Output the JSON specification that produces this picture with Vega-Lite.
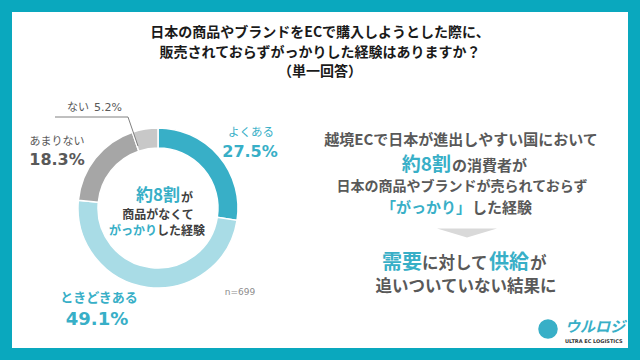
{
  "$schema": "https://vega.github.io/schema/vega-lite/v6.json",
  "width": 640,
  "height": 360,
  "autosize": {"type": "fit", "contains": "padding"},
  "padding": 12,
  "background": "#0AA8BE",
  "config": {
    "view": {"fill": "white", "stroke": null},
    "text": {"font": "Noto Sans CJK JP", "baseline": "middle"}
  },
  "data": {
    "values": [
      {"answer": "よくある", "share": 0.275, "rank": 1},
      {"answer": "ときどきある", "share": 0.491, "rank": 2},
      {"answer": "あまりない", "share": 0.183, "rank": 3},
      {"answer": "ない", "share": 0.052, "rank": 4}
    ]
  },
  "layer": [
    {
      "mark": {"type": "arc", "innerRadius": 60, "outerRadius": 80, "stroke": "white", "strokeWidth": 1.5},
      "encoding": {
        "x": {"datum": 158, "type": "quantitative", "scale": {"domain": [12, 628], "nice": false, "zero": false}, "axis": null},
        "y": {"datum": 208, "type": "quantitative", "scale": {"domain": [12, 348], "nice": false, "zero": false, "reverse": true}, "axis": null},
        "theta": {"field": "share", "type": "quantitative", "stack": true},
        "order": {"field": "rank", "type": "quantitative"},
        "color": {"field": "answer", "type": "nominal", "legend": null,
          "scale": {"domain": ["よくある", "ときどきある", "あまりない", "ない"], "range": ["#38AFC7", "#A9DCE6", "#A6A6A6", "#C8C8C8"]}}
      }
    },
    {
      "transform": [{"filter": "datum.answer == 'ない'"}],
      "mark": {"type": "rule", "color": "#808080", "strokeWidth": 1},
      "encoding": {"x": {"datum": 55}, "x2": {"datum": 128}, "y": {"datum": 117}, "y2": {"datum": 117}}
    },
    {
      "transform": [{"filter": "datum.answer == 'ない'"}],
      "mark": {"type": "rule", "color": "#808080", "strokeWidth": 1},
      "encoding": {"x": {"datum": 128}, "x2": {"datum": 138}, "y": {"datum": 117}, "y2": {"datum": 146}}
    },
    {
      "transform": [{"filter": "datum.answer == 'ない'"}],
      "mark": {"type": "text", "align": "right", "fontSize": 11, "color": "#595959"},
      "encoding": {"x": {"datum": 89}, "y": {"datum": 108}, "text": {"field": "answer"}}
    },
    {
      "transform": [{"filter": "datum.answer == 'ない'"}],
      "mark": {"type": "text", "align": "left", "fontSize": 11, "font": "DejaVu Sans", "color": "#595959"},
      "encoding": {"x": {"datum": 94}, "y": {"datum": 108}, "text": {"field": "share", "type": "quantitative", "format": ".1%"}}
    },
    {
      "transform": [{"filter": "datum.answer == 'よくある'"}],
      "mark": {"type": "text", "align": "center", "fontSize": 11.5, "color": "#38AFC7"},
      "encoding": {"x": {"datum": 251}, "y": {"datum": 133}, "text": {"field": "answer"}}
    },
    {
      "transform": [{"filter": "datum.answer == 'よくある'"}],
      "mark": {"type": "text", "align": "center", "fontSize": 16, "font": "DejaVu Sans", "fontWeight": "bold", "color": "#38AFC7"},
      "encoding": {"x": {"datum": 250}, "y": {"datum": 152}, "text": {"field": "share", "type": "quantitative", "format": ".1%"}}
    },
    {
      "transform": [{"filter": "datum.answer == 'ときどきある'"}],
      "mark": {"type": "text", "align": "center", "fontSize": 13, "fontWeight": "bold", "color": "#38AFC7"},
      "encoding": {"x": {"datum": 99}, "y": {"datum": 298}, "text": {"field": "answer"}}
    },
    {
      "transform": [{"filter": "datum.answer == 'ときどきある'"}],
      "mark": {"type": "text", "align": "center", "fontSize": 18, "font": "DejaVu Sans", "fontWeight": "bold", "color": "#38AFC7"},
      "encoding": {"x": {"datum": 97}, "y": {"datum": 320}, "text": {"field": "share", "type": "quantitative", "format": ".1%"}}
    },
    {
      "transform": [{"filter": "datum.answer == 'あまりない'"}],
      "mark": {"type": "text", "align": "center", "fontSize": 11, "color": "#595959"},
      "encoding": {"x": {"datum": 57}, "y": {"datum": 142}, "text": {"field": "answer"}}
    },
    {
      "transform": [{"filter": "datum.answer == 'あまりない'"}],
      "mark": {"type": "text", "align": "center", "fontSize": 16, "font": "DejaVu Sans", "fontWeight": "bold", "color": "#595959"},
      "encoding": {"x": {"datum": 57}, "y": {"datum": 160}, "text": {"field": "share", "type": "quantitative", "format": ".1%"}}
    },
    {
      "data": {"values": [{"t": "n=699"}]},
      "mark": {"type": "text", "align": "center", "fontSize": 9, "font": "DejaVu Sans", "color": "#8C8C8C"},
      "encoding": {"x": {"datum": 240}, "y": {"datum": 292}, "text": {"field": "t"}}
    },
    {
      "data": {"values": [{"t": "約8割"}]},
      "mark": {"type": "text", "align": "right", "fontSize": 17, "fontWeight": "bold", "color": "#38AFC7"},
      "encoding": {"x": {"datum": 180}, "y": {"datum": 196}, "text": {"field": "t"}}
    },
    {
      "data": {"values": [{"t": "が"}]},
      "mark": {"type": "text", "align": "left", "fontSize": 12, "fontWeight": "bold", "color": "#404040"},
      "encoding": {"x": {"datum": 181}, "y": {"datum": 198}, "text": {"field": "t"}}
    },
    {
      "data": {"values": [{"t": "商品がなくて"}]},
      "mark": {"type": "text", "align": "center", "fontSize": 12, "fontWeight": "bold", "color": "#404040"},
      "encoding": {"x": {"datum": 158}, "y": {"datum": 215}, "text": {"field": "t"}}
    },
    {
      "data": {"values": [{"t": "がっかり"}]},
      "mark": {"type": "text", "align": "right", "fontSize": 12, "fontWeight": "bold", "color": "#38AFC7"},
      "encoding": {"x": {"datum": 157}, "y": {"datum": 231}, "text": {"field": "t"}}
    },
    {
      "data": {"values": [{"t": "した経験"}]},
      "mark": {"type": "text", "align": "left", "fontSize": 12, "fontWeight": "bold", "color": "#404040"},
      "encoding": {"x": {"datum": 157}, "y": {"datum": 231}, "text": {"field": "t"}}
    },
    {
      "data": {"values": [{"t": "日本の商品やブランドをECで購入しようとした際に、"}]},
      "mark": {"type": "text", "align": "center", "fontSize": 14, "fontWeight": "bold", "color": "#1A1A1A"},
      "encoding": {"x": {"datum": 320}, "y": {"datum": 33}, "text": {"field": "t"}}
    },
    {
      "data": {"values": [{"t": "販売されておらずがっかりした経験はありますか？"}]},
      "mark": {"type": "text", "align": "center", "fontSize": 14, "fontWeight": "bold", "color": "#1A1A1A"},
      "encoding": {"x": {"datum": 320}, "y": {"datum": 53}, "text": {"field": "t"}}
    },
    {
      "data": {"values": [{"t": "（単一回答）"}]},
      "mark": {"type": "text", "align": "center", "fontSize": 14, "fontWeight": "bold", "color": "#1A1A1A"},
      "encoding": {"x": {"datum": 320}, "y": {"datum": 72}, "text": {"field": "t"}}
    },
    {
      "data": {"values": [{"t": "越境ECで日本が進出しやすい国において"}]},
      "mark": {"type": "text", "align": "center", "fontSize": 15, "fontWeight": "bold", "color": "#595959"},
      "encoding": {"x": {"datum": 461}, "y": {"datum": 140}, "text": {"field": "t"}}
    },
    {
      "data": {"values": [{"t": "約8割"}]},
      "mark": {"type": "text", "align": "right", "fontSize": 19, "fontWeight": "bold", "color": "#38AFC7"},
      "encoding": {"x": {"datum": 451}, "y": {"datum": 165}, "text": {"field": "t"}}
    },
    {
      "data": {"values": [{"t": "の消費者が"}]},
      "mark": {"type": "text", "align": "left", "fontSize": 15, "fontWeight": "bold", "color": "#595959"},
      "encoding": {"x": {"datum": 452}, "y": {"datum": 166}, "text": {"field": "t"}}
    },
    {
      "data": {"values": [{"t": "日本の商品やブランドが売られておらず"}]},
      "mark": {"type": "text", "align": "center", "fontSize": 14, "fontWeight": "bold", "color": "#595959"},
      "encoding": {"x": {"datum": 462}, "y": {"datum": 187}, "text": {"field": "t"}}
    },
    {
      "data": {"values": [{"t": "「がっかり」"}]},
      "mark": {"type": "text", "align": "right", "fontSize": 15, "fontWeight": "bold", "color": "#38AFC7"},
      "encoding": {"x": {"datum": 471}, "y": {"datum": 208}, "text": {"field": "t"}}
    },
    {
      "data": {"values": [{"t": "した経験"}]},
      "mark": {"type": "text", "align": "left", "fontSize": 15, "fontWeight": "bold", "color": "#595959"},
      "encoding": {"x": {"datum": 472}, "y": {"datum": 208}, "text": {"field": "t"}}
    },
    {
      "data": {"values": [{"t": "arrow"}]},
      "mark": {"type": "point", "shape": "M-1,-0.15L1,-0.15L0,0.15Z", "size": 3600, "filled": true, "opacity": 1, "color": "#D9D9D9", "strokeWidth": 0},
      "encoding": {"x": {"datum": 467}, "y": {"datum": 233}}
    },
    {
      "data": {"values": [{"t": "需要"}]},
      "mark": {"type": "text", "align": "right", "fontSize": 20, "fontWeight": "bold", "color": "#38AFC7"},
      "encoding": {"x": {"datum": 422}, "y": {"datum": 263}, "text": {"field": "t"}}
    },
    {
      "data": {"values": [{"t": "に対して"}]},
      "mark": {"type": "text", "align": "left", "fontSize": 16.5, "fontWeight": "bold", "color": "#595959"},
      "encoding": {"x": {"datum": 422}, "y": {"datum": 264}, "text": {"field": "t"}}
    },
    {
      "data": {"values": [{"t": "供給"}]},
      "mark": {"type": "text", "align": "left", "fontSize": 20, "fontWeight": "bold", "color": "#38AFC7"},
      "encoding": {"x": {"datum": 489}, "y": {"datum": 263}, "text": {"field": "t"}}
    },
    {
      "data": {"values": [{"t": "が"}]},
      "mark": {"type": "text", "align": "left", "fontSize": 16.5, "fontWeight": "bold", "color": "#595959"},
      "encoding": {"x": {"datum": 530}, "y": {"datum": 264}, "text": {"field": "t"}}
    },
    {
      "data": {"values": [{"t": "追いついていない結果に"}]},
      "mark": {"type": "text", "align": "center", "fontSize": 16.5, "fontWeight": "bold", "color": "#595959"},
      "encoding": {"x": {"datum": 466}, "y": {"datum": 287}, "text": {"field": "t"}}
    },
    {
      "data": {"values": [{"t": "logo"}]},
      "mark": {"type": "point", "shape": "circle", "size": 380, "filled": true, "opacity": 1, "color": "#38AFC7", "strokeWidth": 0},
      "encoding": {"x": {"datum": 548}, "y": {"datum": 329}}
    },
    {
      "data": {"values": [{"t": "ウルロジ"}]},
      "mark": {"type": "text", "align": "left", "fontSize": 15, "fontWeight": "bold", "fontStyle": "italic", "color": "#38AFC7"},
      "encoding": {"x": {"datum": 565}, "y": {"datum": 327}, "text": {"field": "t"}}
    },
    {
      "data": {"values": [{"t": "ULTRA EC LOGISTICS"}]},
      "mark": {"type": "text", "align": "left", "fontSize": 5, "font": "DejaVu Sans", "fontWeight": "bold", "color": "#333333"},
      "encoding": {"x": {"datum": 565}, "y": {"datum": 341}, "text": {"field": "t"}}
    }
  ]
}
